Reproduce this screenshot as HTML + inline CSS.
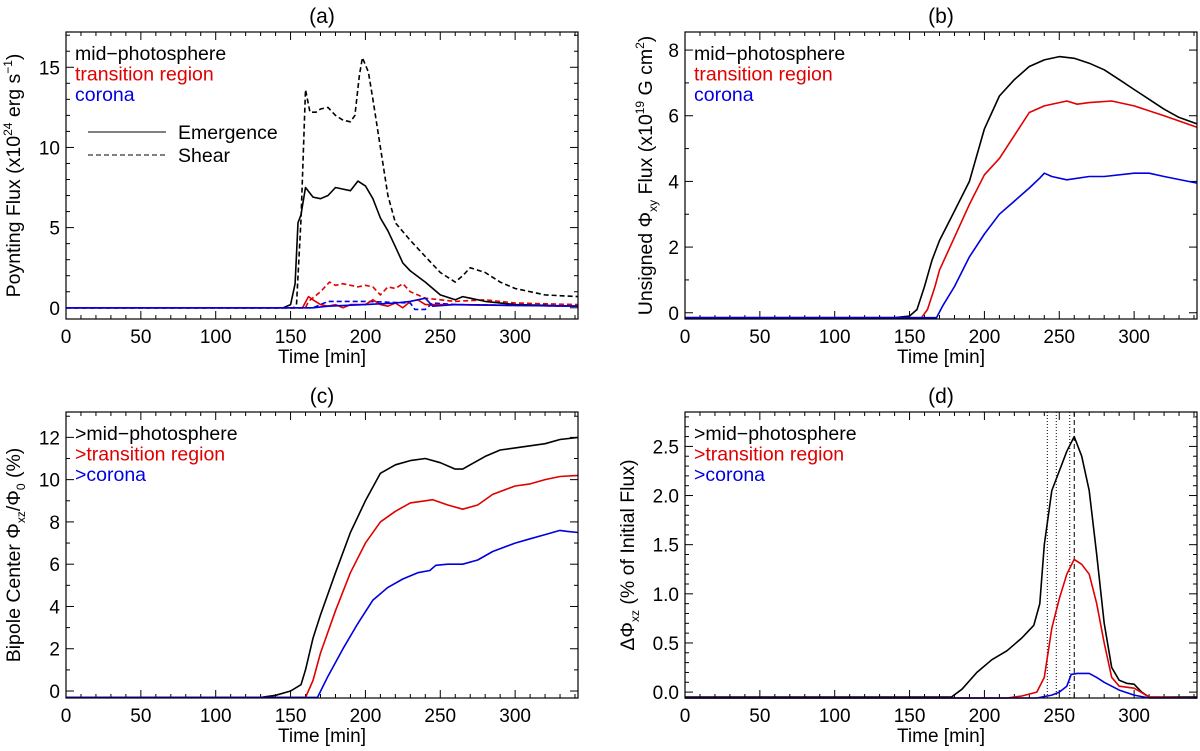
<!DOCTYPE html>
<html><head><meta charset="utf-8"><style>
html,body{margin:0;padding:0;background:#fff;}
svg{display:block;font-family:"Liberation Sans",Arial,sans-serif;}
</style></head><body>
<svg id="fig" width="1200" height="751" viewBox="0 0 1200 751"></svg>
<script>
// ---- data (time in min, values) ----
const aBlackSolidT=[0,145,150,153,155,157,160,165,170,175,180,185,190,195,200,205,210,215,220,225,230,240,250,260,265,270,280,300,342];
const aBlackSolidV=[0,0,0.2,1.5,5.3,5.8,7.5,6.9,6.8,7.0,7.5,7.4,7.3,7.9,7.6,6.8,5.6,4.8,3.8,2.8,2.3,1.6,0.8,0.5,0.7,0.6,0.4,0.2,0.1];
const aBlackDashT=[0,152,154,157,160,163,167,170,175,180,185,190,193,196,198,202,205,210,215,220,230,240,250,260,265,270,280,290,300,320,342];
const aBlackDashV=[0,0,0.2,5.5,13.6,12.2,12.2,12.4,12.5,12.0,11.7,11.6,12.0,14.5,15.6,14.7,13.0,10.0,7.0,5.3,4.2,3.2,2.2,1.6,2.0,2.5,2.2,1.6,1.2,0.8,0.7];
const aRedDashT=[0,160,162,170,176,180,185,195,200,205,210,215,220,225,230,240,250,260,280,300,342];
const aRedDashV=[0,0,0.4,1.0,1.6,1.4,1.5,1.3,1.4,1.3,0.8,1.3,1.2,1.5,1.0,0.6,0.5,0.4,0.5,0.3,0.2];
const aRedSolidT=[0,158,162,165,170,175,180,185,190,200,205,210,215,220,225,230,235,240,250,342];
const aRedSolidV=[0,0,0.7,0.5,0.2,0.1,0.2,0.0,0.2,0.2,0.5,0.2,0.1,0.3,0.0,0.4,0.5,0.2,0.2,0.1];
const aBlueDashT=[0,165,175,200,230,233,240,245,260,342];
const aBlueDashV=[0,0,0.4,0.4,0.3,-0.1,-0.1,0.3,0.2,0.1];
const aBlueSolidT=[0,165,175,200,220,230,240,245,260,342];
const aBlueSolidV=[0,0,0.1,0.2,0.3,0.4,0.6,0.1,0.2,0.1];

const bBlackT=[0,140,150,155,160,165,170,180,190,200,210,220,230,240,250,260,270,280,290,300,310,320,330,342];
const bBlackV=[-0.15,-0.15,-0.1,0.1,0.8,1.6,2.2,3.1,4.0,5.6,6.6,7.1,7.5,7.7,7.8,7.75,7.6,7.4,7.1,6.8,6.5,6.2,5.95,5.75];
const bRedT=[0,158,162,167,170,180,190,200,210,220,230,240,250,255,262,270,285,300,320,342];
const bRedV=[-0.15,-0.15,0.1,0.8,1.3,2.3,3.3,4.2,4.7,5.4,6.1,6.3,6.4,6.45,6.35,6.4,6.45,6.3,6.0,5.65];
const bBlueT=[0,168,172,180,190,200,210,220,230,237,240,245,255,270,280,300,310,320,342];
const bBlueV=[-0.15,-0.15,0.2,0.8,1.7,2.4,3.0,3.4,3.8,4.1,4.25,4.15,4.05,4.15,4.15,4.25,4.25,4.15,3.95];

const cBlackT=[0,130,140,150,157,160,165,170,180,190,200,210,215,220,230,240,250,260,265,270,280,290,300,310,320,330,342];
const cBlackV=[-0.3,-0.3,-0.2,0.0,0.3,1.0,2.5,3.6,5.6,7.5,9.0,10.3,10.5,10.7,10.9,11.0,10.8,10.5,10.5,10.7,11.1,11.4,11.5,11.6,11.7,11.9,12.0];
const cRedT=[0,160,165,170,180,190,200,210,220,230,240,245,255,265,275,285,300,310,320,330,342];
const cRedV=[-0.3,-0.3,0.5,1.8,3.8,5.6,7.0,8.0,8.5,8.9,9.0,9.05,8.8,8.6,8.8,9.3,9.7,9.8,10.0,10.15,10.2];
const cBlueT=[0,168,175,185,195,205,215,225,235,243,247,255,265,275,285,300,310,320,330,335,342];
const cBlueV=[-0.3,-0.3,0.7,2.0,3.2,4.3,4.9,5.3,5.6,5.7,5.95,6.0,6.0,6.2,6.6,7.0,7.2,7.4,7.6,7.55,7.5];

const dBlackT=[0,178,185,195,205,215,225,233,237,240,245,250,255,260,265,270,275,280,285,290,295,300,305,310,342];
const dBlackV=[-0.05,-0.05,0.03,0.2,0.33,0.42,0.55,0.68,0.9,1.5,2.05,2.25,2.45,2.6,2.4,2.05,1.4,0.7,0.25,0.12,0.09,0.08,0.0,-0.05,-0.05];
const dRedT=[0,215,225,235,240,245,250,255,260,265,270,275,280,285,290,295,300,310,342];
const dRedV=[-0.06,-0.06,-0.04,0.0,0.15,0.65,0.95,1.2,1.35,1.3,1.2,0.9,0.5,0.15,0.06,0.05,0.04,-0.05,-0.06];
const dBlueT=[0,235,245,250,255,258,262,270,275,280,290,300,310,342];
const dBlueV=[-0.06,-0.06,-0.03,0.0,0.06,0.18,0.19,0.19,0.15,0.1,0.02,-0.03,-0.06,-0.06];
const dDottedLines=[242,248,257];
const dDashedLines=[260];

const xTicks=[0,50,100,150,200,250,300];

const NS="http://www.w3.org/2000/svg";
const svg=document.getElementById('fig');
function mk(tag,attrs,parent){const e=document.createElementNS(NS,tag);for(const k in attrs)e.setAttribute(k,attrs[k]);(parent||svg).appendChild(e);return e;}

function panel(o){
  const g=mk('g',{});
  
  
  const L=o.x0,R=o.x0+512,T=o.y0,B=o.y1;
  const xs=t=>L+(t-0)/(342-0)*(R-L);
  const ys=v=>B-(v-o.ymin)/(o.ymax-o.ymin)*(B-T);
  for(let t=0;t<=342;t+=10){
    const maj=t%50===0, len=maj?8:4;
    mk('line',{x1:xs(t),x2:xs(t),y1:B,y2:B-len,stroke:'#000','stroke-width':1},g);
    mk('line',{x1:xs(t),x2:xs(t),y1:T,y2:T+len,stroke:'#000','stroke-width':1},g);
  }
  xTicks.forEach(t=>{const tx=mk('text',{x:xs(t),y:B+24,'font-size':19,'text-anchor':'middle'},g);tx.textContent=t;
    
    });
  const n0=Math.ceil(o.ymin/o.minor-1e-9);
  for(let i=n0;i*o.minor<=o.ymax+1e-9;i++){
    const v=i*o.minor;const maj=Math.abs(v/o.major-Math.round(v/o.major))<1e-6;const len=maj?8:4;
    mk('line',{x1:L,x2:L+len,y1:ys(v),y2:ys(v),stroke:'#000','stroke-width':1},g);
    mk('line',{x1:R,x2:R-len,y1:ys(v),y2:ys(v),stroke:'#000','stroke-width':1},g);
  }
  o.yTicks.forEach(v=>{const tx=mk('text',{x:L-6,y:ys(v)+7,'font-size':19,'text-anchor':'end'},g);tx.textContent=o.fmt(v);
    
    });
  (o.vlines||[]).forEach(vl=>{const ln=mk('line',{x1:xs(vl.t),x2:xs(vl.t),y1:T,y2:B,stroke:'#000','stroke-width':1,'stroke-dasharray':vl.dash},g);
    
    });
  o.series.forEach(s=>{
    const d=s.t.map((t,i)=>(i?'L':'M')+xs(t).toFixed(1)+','+ys(s.v[i]).toFixed(1)).join('');
    const p=mk('path',{d:d,fill:'none',stroke:s.c,'stroke-width':1.6,'stroke-dasharray':s.dash||'none','stroke-linejoin':'round'},g);
    
    
  });
  mk('rect',{x:L,y:T,width:R-L,height:B-T,fill:'none',stroke:'#000','stroke-width':1.2},g);
  const tt=mk('text',{x:(L+R)/2,y:T-9,'font-size':21,'text-anchor':'middle'},g);tt.textContent=o.title;
  
  
  const xt=mk('text',{x:(L+R)/2,y:B+44,'font-size':19,'text-anchor':'middle'},g);xt.textContent='Time [min]';
  
  
  const yt=mk('text',{transform:`translate(${o.ylx},${(T+B)/2}) rotate(-90)`,'font-size':19.5,'text-anchor':'middle'},g);
  yt.innerHTML=o.ylab;
  
  
  o.legend.forEach((l,i)=>{const tx=mk('text',{x:L+9,y:T+28+i*20.5,'font-size':19.5,fill:l[1]},g);tx.textContent=l[0];
    
    });
  return {g,L,T};
}
const pa=panel({name:'panel-a-poynting-flux',title:'(a)',x0:66,y0:32,y1:319,ymin:-0.7,ymax:17.2,major:5,minor:1,yTicks:[0,5,10,15],fmt:v=>String(v),ylx:20,
  ylab:'Poynting Flux (x10<tspan dy="-8" font-size="12">24</tspan><tspan dy="8"> erg s</tspan><tspan dy="-8" font-size="12">−1</tspan><tspan dy="8">)</tspan>',
  legend:[['mid−photosphere','#000'],['transition region','#e00000'],['corona','#0000e0']],
  series:[{t:aBlackDashT,v:aBlackDashV,c:'#000',dash:'5,3',name:'mid-photosphere-shear'},{t:aRedDashT,v:aRedDashV,c:'#e00000',dash:'5,3',name:'transition-region-shear'},{t:aBlueDashT,v:aBlueDashV,c:'#0000e0',dash:'5,3',name:'corona-shear'},
    {t:aBlackSolidT,v:aBlackSolidV,c:'#000',name:'mid-photosphere-emergence'},{t:aRedSolidT,v:aRedSolidV,c:'#e00000',name:'transition-region-emergence'},{t:aBlueSolidT,v:aBlueSolidV,c:'#0000e0',name:'corona-emergence'}]});
{const l1=mk('line',{x1:88,x2:166,y1:132,y2:132,stroke:'#000','stroke-width':1},pa.g);
 const l2=mk('line',{x1:88,x2:166,y1:155,y2:155,stroke:'#000','stroke-width':1,'stroke-dasharray':'5,3'},pa.g);
 const t1=mk('text',{x:178,y:139,'font-size':19.5},pa.g);t1.textContent='Emergence';
 const t2=mk('text',{x:178,y:162,'font-size':19.5},pa.g);t2.textContent='Shear';}
panel({name:'panel-b-unsigned-flux',title:'(b)',x0:685,y0:32,y1:319,ymin:-0.19,ymax:8.55,major:2,minor:1,yTicks:[0,2,4,6,8],fmt:v=>String(v),ylx:652,
  ylab:'Unsigned Φ<tspan dy="5" font-size="12">xy</tspan><tspan dy="-5"> Flux (x10</tspan><tspan dy="-8" font-size="12">19</tspan><tspan dy="8"> G cm</tspan><tspan dy="-8" font-size="12">2</tspan><tspan dy="8">)</tspan>',
  legend:[['mid−photosphere','#000'],['transition region','#e00000'],['corona','#0000e0']],
  series:[{t:bBlackT,v:bBlackV,c:'#000',name:'mid-photosphere-line'},{t:bRedT,v:bRedV,c:'#e00000',name:'transition-region-line'},{t:bBlueT,v:bBlueV,c:'#0000e0',name:'corona-line'}]});
panel({name:'panel-c-bipole-center',title:'(c)',x0:66,y0:412,y1:698,ymin:-0.33,ymax:13.2,major:2,minor:1,yTicks:[0,2,4,6,8,10,12],fmt:v=>String(v),ylx:20,
  ylab:'Bipole Center Φ<tspan dy="5" font-size="12">xz</tspan><tspan dy="-5">/Φ</tspan><tspan dy="5" font-size="12">0</tspan><tspan dy="-5"> (%)</tspan>',
  legend:[['>mid−photosphere','#000'],['>transition region','#e00000'],['>corona','#0000e0']],
  series:[{t:cBlackT,v:cBlackV,c:'#000',name:'mid-photosphere-line'},{t:cRedT,v:cRedV,c:'#e00000',name:'transition-region-line'},{t:cBlueT,v:cBlueV,c:'#0000e0',name:'corona-line'}]});
panel({name:'panel-d-delta-flux',title:'(d)',x0:685,y0:412,y1:698,ymin:-0.06,ymax:2.85,major:0.5,minor:0.1,yTicks:[0,0.5,1,1.5,2,2.5],fmt:v=>v.toFixed(1),ylx:634,
  ylab:'ΔΦ<tspan dy="5" font-size="12">xz</tspan><tspan dy="-5"> (% of Initial Flux)</tspan>',
  legend:[['>mid−photosphere','#000'],['>transition region','#e00000'],['>corona','#0000e0']],
  vlines:dDottedLines.map(t=>({t:t,dash:'1,2'})).concat(dDashedLines.map(t=>({t:t,dash:'5,3'}))),
  series:[{t:dBlackT,v:dBlackV,c:'#000',name:'mid-photosphere-line'},{t:dRedT,v:dRedV,c:'#e00000',name:'transition-region-line'},{t:dBlueT,v:dBlueV,c:'#0000e0',name:'corona-line'}]});
</script>
</body></html>
